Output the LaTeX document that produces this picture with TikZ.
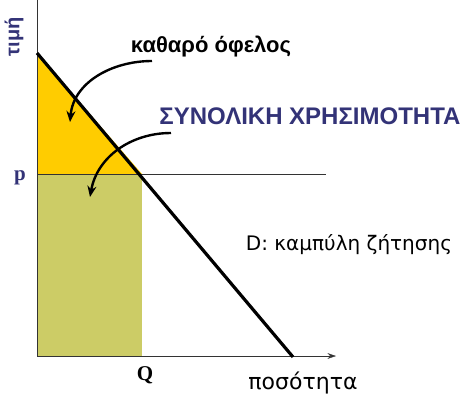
\documentclass[tikz,border=0pt]{standalone}
\usepackage{fontspec}
\setmainfont{Liberation Sans}
\newfontfamily\timesfont{Liberation Serif}
\newfontfamily\widefont{DejaVu Sans}
\usetikzlibrary{arrows.meta, positioning}
\definecolor{navy}{RGB}{51,51,119}
\definecolor{surplus}{RGB}{255,204,0}
\definecolor{utility}{RGB}{204,204,102}

\begin{document}
\begin{tikzpicture}[
    x=1pt, y=-1pt,
    axis/.style={thin, black!80},
    demand/.style={line width=3.2pt, black},
    curvearrow/.style={-{Stealth[length=11pt, width=9pt]}, line width=2.4pt},
    axislabel/.style={font=\widefont\fontsize{20}{22}\selectfont},
    marklabel/.style={font=\timesfont\bfseries\fontsize{21}{23}\selectfont},
  ]
  \useasboundingbox (0,0) rectangle (461,394);

  % points of the diagram
  \coordinate (O) at (37,356);
  \coordinate (ytop) at (37,0);
  \coordinate (xend) at (336,356);
  \coordinate (dstart) at (37,53);
  \coordinate (dend) at (293,357);
  \coordinate (eq) at (142,174);
  \coordinate (pline) at (37,174);
  \coordinate (pend) at (326,174);
  \coordinate (Qfoot) at (142,356);

  % areas
  \fill[surplus] (dstart) -- (pline) -- (eq) -- cycle;
  \fill[utility] (pline) rectangle (Qfoot);
  \draw[white, dashed] (eq) -- (Qfoot);

  % axes and lines
  \draw[axis] (ytop) -- (O);
  \draw[axis, -{Stealth[length=3mm, width=2mm]}] (O) -- (xend);
  \draw[axis] (pline) -- (pend);
  \draw[demand] (dstart) -- (dend);

  % labels
  \node[rotate=90, text=navy, font=\bfseries\fontsize{20}{22}\selectfont] (price) at (14,37) {τιμή};
  \node[marklabel, text=navy] (p) at (20,178) {p};
  \node[marklabel] (Q) at (145,375) {Q};
  \node[axislabel, font=\widefont\fontsize{22}{24}\selectfont] (qty) at (303,383) {ποσότητα};
  \node[axislabel] (dcurve) at (349,245) {D: καμπύλη ζήτησης};
  \node[font=\bfseries\fontsize{22}{24}\selectfont] (net) at (211,47) {καθαρό όφελος};
  \node[text=navy, font=\bfseries\fontsize{24}{26}\selectfont] (total) at (310,116) {ΣΥΝΟΛΙΚΗ ΧΡΗΣΙΜΟΤΗΤΑ};

  % arrows into the areas
  \coordinate (netout) at (152,61);
  \coordinate (netin) at (70,122);
  \coordinate (totalout) at (171,133);
  \coordinate (totalin) at (90,197);
  \draw[curvearrow] (netout) to[out=180, in=85] (netin);
  \draw[curvearrow] (totalout) to[out=180, in=80] (totalin);

\end{tikzpicture}
\end{document}
